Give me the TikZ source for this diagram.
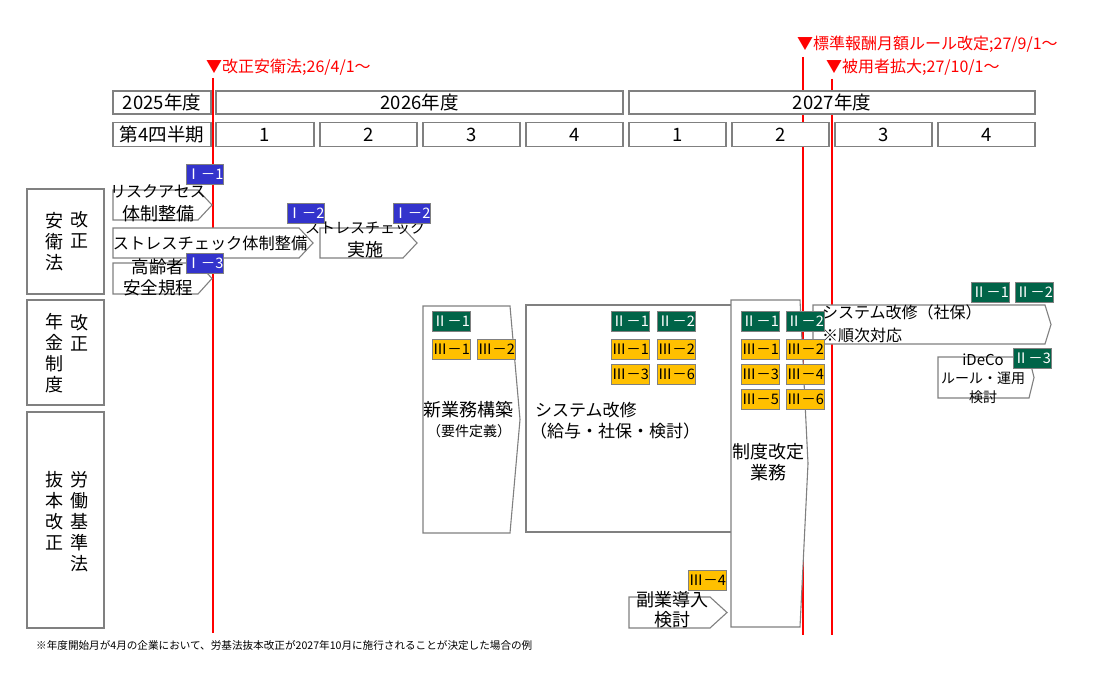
\documentclass[tikz,border=0pt]{standalone}
\usepackage{fontspec}
\setmainfont{Noto Sans CJK JP}
\definecolor{bxgray}{RGB}{128,128,128}
\definecolor{tagblue}{RGB}{51,51,204}
\definecolor{taggreen}{RGB}{0,100,72}
\definecolor{tagamber}{RGB}{255,192,0}
\tikzset{
 boxline/.style={draw=bxgray, line width=1.1pt, fill=white},
 hdrbox/.style={boxline, inner sep=0pt, font=\fontsize{18.5}{20}\selectfont},
 redline/.style={draw=red, line width=2.4pt},
 redlabel/.style={text=red, anchor=west, inner sep=0pt, font=\fontsize{16}{18}\selectfont},
 tagbase/.style={draw=bxgray, line width=0.8pt, minimum width=38pt, minimum height=20pt, inner sep=0pt, anchor=north west, font=\fontsize{14.5}{15}\selectfont},
 tagI/.style={tagbase, fill=tagblue, text=white},
 tagII/.style={tagbase, fill=taggreen, text=white},
 tagIII/.style={tagbase, fill=tagamber, text=black},
 lbl/.style={inner sep=0pt, align=center},
 vlbl/.style={inner sep=0pt, align=center, font=\fontsize{18}{21}\selectfont},
}
\newcommand\pentbox[5]{\path[boxline] (#1,#2) -- ({#3-#5},#2) -- (#3,{(#2+#4)/2}) -- ({#3-#5},#4) -- (#1,#4) -- cycle;}
\begin{document}
\begin{tikzpicture}[x=1pt,y=-1pt]
\useasboundingbox[fill=white] (0,0) rectangle (1100,690);
% red milestone lines
\coordinate (m1t) at (213,78); \coordinate (m1b) at (213,633);
\coordinate (m2t) at (803,57); \coordinate (m2b) at (803,635);
\coordinate (m3t) at (832,79); \coordinate (m3b) at (832,635);
\draw[redline] (m1t) -- (m1b);
\draw[redline] (m2t) -- (m2b);
\draw[redline] (m3t) -- (m3b);
\node[redlabel] (l1) at (206,67) {▼改正安衛法;26/4/1～};
\node[redlabel] (l2) at (797,44) {▼標準報酬月額ルール改定;27/9/1～};
\node[redlabel] (l3) at (826,67) {▼被用者拡大;27/10/1～};
% header rows
\node[hdrbox, minimum width=98pt, minimum height=23pt] (y25) at (162,102.5) {2025年度};
\node[hdrbox, minimum width=407pt, minimum height=23pt] (y26) at (419.5,102.5) {2026年度};
\node[hdrbox, minimum width=406pt, minimum height=23pt] (y27) at (832,102.5) {2027年度};
\node[hdrbox, minimum width=98pt, minimum height=24pt] (q0) at (162,134.5) {第4四半期};
\node[hdrbox, minimum width=98pt, minimum height=24pt] (q1) at (265,134.5) {1};
\node[hdrbox, minimum width=97pt, minimum height=24pt] (q2) at (368.5,134.5) {2};
\node[hdrbox, minimum width=97pt, minimum height=24pt] (q3) at (471.5,134.5) {3};
\node[hdrbox, minimum width=97pt, minimum height=24pt] (q4) at (574.5,134.5) {4};
\node[hdrbox, minimum width=97pt, minimum height=24pt] (q5) at (677.5,134.5) {1};
\node[hdrbox, minimum width=97pt, minimum height=24pt] (q6) at (780.5,134.5) {2};
\node[hdrbox, minimum width=97pt, minimum height=24pt] (q7) at (883.5,134.5) {3};
\node[hdrbox, minimum width=97pt, minimum height=24pt] (q8) at (986.5,134.5) {4};
% category boxes
\path[boxline] (27,189) rectangle (104,294);
\path[boxline] (27,300) rectangle (104,405);
\path[boxline] (27,412) rectangle (104,628);
\node[vlbl] (c1a) at (79,229.5) {改\\正};
\node[vlbl] (c1b) at (54,242) {安\\衛\\法};
\node[vlbl] (c2a) at (79,332.5) {改\\正};
\node[vlbl] (c2b) at (54,353.5) {年\\金\\制\\度};
\node[vlbl] (c3a) at (79,521.5) {労\\働\\基\\準\\法};
\node[vlbl] (c3b) at (54,511) {抜\\本\\改\\正};
% task boxes
\pentbox{113}{190}{212}{220}{14}
\pentbox{113}{228}{313}{258}{14}
\pentbox{320}{228}{417}{258}{14}
\pentbox{113}{263}{212}{294}{14}
\pentbox{423}{306}{520}{533}{10}
\path[boxline] (526,305) rectangle (745,532);
\pentbox{731}{300}{808}{627}{8}
\pentbox{629}{597}{727}{628}{17}
\pentbox{813}{305}{1051}{344}{6}
\pentbox{938}{357}{1034}{398}{5}
% task texts
\node[lbl, font=\fontsize{16}{23}\selectfont] (t1) at (158,203.5) {リスクアセス\\{\fontsize{18}{23}\selectfont 体制整備}};
\node[lbl, font=\fontsize{16.2}{20}\selectfont] (t2) at (210,243) {ストレスチェック体制整備};
\node[lbl, font=\fontsize{15}{23}\selectfont] (t3) at (365,239.5) {ストレスチェック\\{\fontsize{18}{23}\selectfont 実施}};
\node[lbl, font=\fontsize{17.5}{21}\selectfont] (t4) at (158,277) {高齢者\\安全規程};
\node[lbl, font=\fontsize{18}{20}\selectfont] (t5) at (468,410) {新業務構築};
\node[lbl, font=\fontsize{14}{16}\selectfont] (t5b) at (469,431) {（要件定義）};
\node[lbl, font=\fontsize{17}{20}\selectfont, anchor=west] (t6) at (535,410) {システム改修};
\node[lbl, font=\fontsize{17}{20}\selectfont, anchor=west] (t6b) at (530,431) {（給与・社保・検討）};
\node[lbl, font=\fontsize{18}{21}\selectfont] (t7) at (768,462.5) {制度改定\\業務};
\node[lbl, font=\fontsize{18}{20}\selectfont] (t8) at (672,610) {副業導入\\検討};
\node[lbl, align=left, anchor=west, font=\fontsize{16}{23}\selectfont] (t9) at (822,323.5) {システム改修（社保）\\※順次対応};
\node[lbl, font=\fontsize{14}{18.5}\selectfont] (t10) at (983,378.5) {{\fontsize{15}{18.5}\selectfont iDeCo}\\ルール・運用\\検討};
% tags
\node[tagI, minimum width=37pt] (a1) at (186,164) {Ⅰ－1};
\node[tagI, minimum width=36pt] (a2) at (287,203) {Ⅰ－2};
\node[tagI, minimum width=36pt] (a3) at (393,203) {Ⅰ－2};
\node[tagI, minimum width=37pt] (a4) at (186,253) {Ⅰ－3};
\node[tagII] (b1) at (432,311) {Ⅱ－1};
\node[tagII] (b2) at (611,311) {Ⅱ－1};
\node[tagII] (b3) at (657,311) {Ⅱ－2};
\node[tagII] (b4) at (741,311) {Ⅱ－1};
\node[tagII] (b5) at (786,311) {Ⅱ－2};
\node[tagII] (b6) at (971,282) {Ⅱ－1};
\node[tagII] (b7) at (1015,282) {Ⅱ－2};
\node[tagII] (b8) at (1013,348) {Ⅱ－3};
\node[tagIII] (c1) at (432,339) {Ⅲ－1};
\node[tagIII] (c2) at (477,339) {Ⅲ－2};
\node[tagIII] (c3) at (611,339) {Ⅲ－1};
\node[tagIII] (c4) at (657,339) {Ⅲ－2};
\node[tagIII] (c5) at (611,364) {Ⅲ－3};
\node[tagIII] (c6) at (657,364) {Ⅲ－6};
\node[tagIII] (c7) at (741,339) {Ⅲ－1};
\node[tagIII] (c8) at (786,339) {Ⅲ－2};
\node[tagIII] (c9) at (741,364) {Ⅲ－3};
\node[tagIII] (c10) at (786,364) {Ⅲ－4};
\node[tagIII] (c11) at (741,389) {Ⅲ－5};
\node[tagIII] (c12) at (786,389) {Ⅲ－6};
\node[tagIII] (c13) at (688,570) {Ⅲ－4};
% footnote
\node[anchor=west, inner sep=0pt, font=\fontsize{10.6}{12}\selectfont] (fn) at (36,645) {※年度開始月が4月の企業において、労基法抜本改正が2027年10月に施行されることが決定した場合の例};
\end{tikzpicture}
\end{document}
